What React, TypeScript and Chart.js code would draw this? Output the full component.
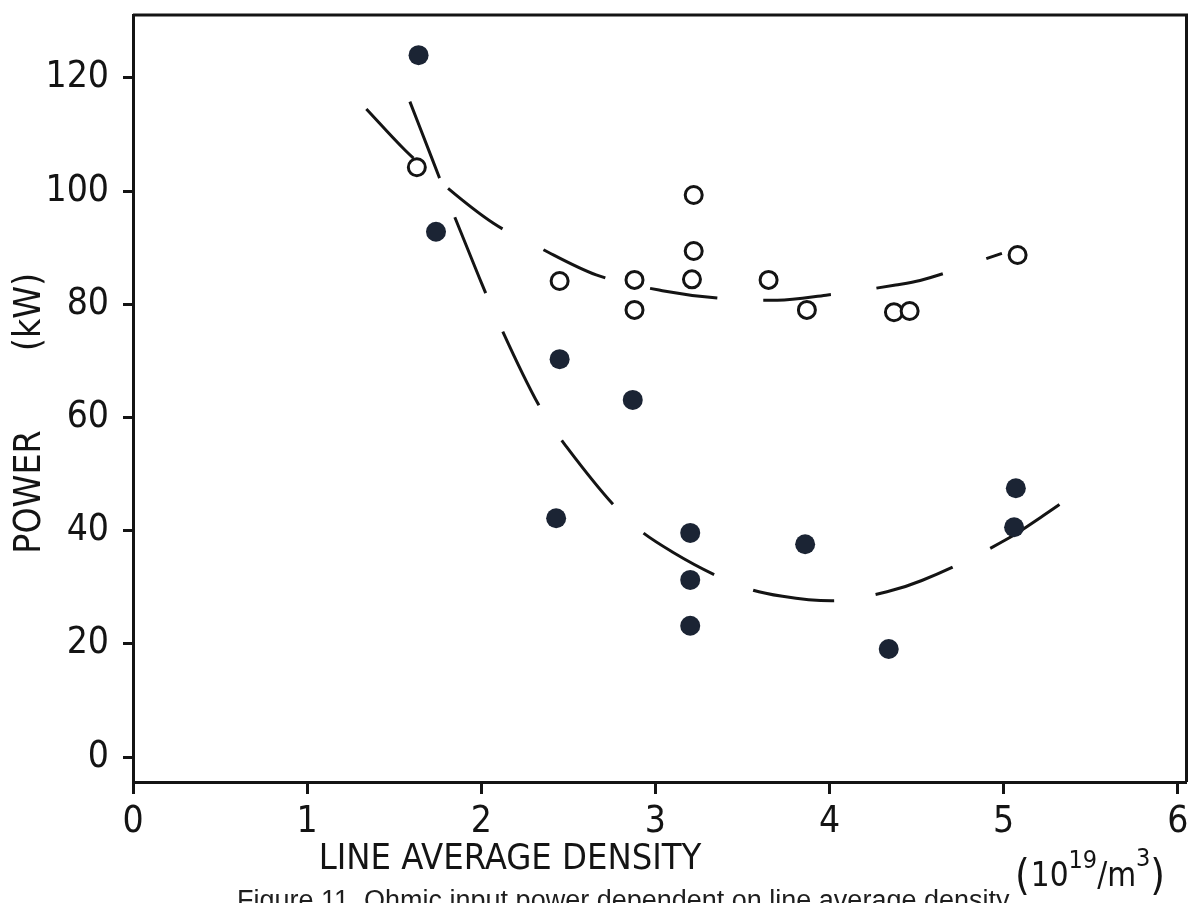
import React, { useEffect, useRef } from "react";
import { Chart, registerables } from "chart.js";

Chart.register(...registerables);

// ---- data ----
const xTickValues = [0, 1, 2, 3, 4, 5, 6];
const xTickLabels = ["0", "1", "2", "3", "4", "5", "6"];
const yTickValues = [0, 20, 40, 60, 80, 100, 120];
const yTickLabels = ["0", "20", "40", "60", "80", "100", "120"];

// filled circles
const filledX = [1.64, 1.74, 2.45, 2.87, 2.43, 3.2, 3.2, 3.2, 3.86, 4.34, 5.07, 5.06];
const filledY = [124.0, 92.8, 70.3, 63.1, 42.2, 39.6, 31.3, 23.2, 37.6, 19.1, 47.5, 40.6];

// open circles
const openX = [1.63, 2.45, 2.88, 2.88, 3.22, 3.22, 3.21, 3.65, 3.87, 4.37, 4.46, 5.08];
const openY = [104.2, 84.1, 84.3, 79.0, 99.3, 89.4, 84.4, 84.3, 79.0, 78.6, 78.8, 88.7];

// dashed fit through open circles
const fitOpenX = [1.34, 1.56, 1.72, 2.07, 2.34, 2.66, 3.04, 3.39, 3.7, 3.98, 4.38, 4.52, 4.99];
const fitOpenY = [114.5, 107.3, 102.8, 94.3, 89.9, 85.2, 82.4, 81.0, 80.7, 81.6, 83.4, 84.2, 89.0];

// dashed fit through filled circles
const fitFilledX = [1.59, 1.72, 1.84, 1.99, 2.06, 2.35, 2.49, 2.85, 3.1, 3.52, 3.73, 4.01, 4.33, 4.53, 5.03, 5.21, 5.39];
const fitFilledY = [115.8, 105.5, 96.0, 84.6, 79.5, 61.1, 54.8, 41.7, 36.2, 29.9, 28.4, 27.6, 29.2, 31.2, 38.7, 42.3, 46.1];

const yTitleMain = "POWER";
const yTitleUnit = "(kW)";
const xTitle = "LINE AVERAGE DENSITY";
const caption = "Figure 11.  Ohmic input power dependent on line average density";

const FONT = "'DejaVu Sans Condensed', 'Liberation Sans Narrow', 'DejaVu Sans', sans-serif";
const INK = "#141414";
const DOT = "#1b2434";

const pts = (xs: number[], ys: number[]) => xs.map((x, i) => ({ x, y: ys[i] }));

const textPlugin = {
  id: "frameAndTitles",
  afterDraw(chart: any) {
    const { ctx, chartArea: a } = chart;
    ctx.save();
    // top and right edges of the frame
    ctx.strokeStyle = INK;
    ctx.lineWidth = 3;
    ctx.beginPath();
    ctx.moveTo(a.left, a.top);
    ctx.lineTo(a.right, a.top);
    ctx.lineTo(a.right, a.bottom);
    ctx.stroke();

    ctx.fillStyle = INK;
    ctx.font = `37px ${FONT}`;
    ctx.textAlign = "center";
    ctx.textBaseline = "middle";
    // y title (rotated)
    ctx.save();
    ctx.translate(30, 492);
    ctx.rotate(-Math.PI / 2);
    ctx.fillText(yTitleMain, 0, 0);
    ctx.restore();
    ctx.save();
    ctx.translate(30, 312);
    ctx.rotate(-Math.PI / 2);
    ctx.fillText(yTitleUnit, 0, 0);
    ctx.restore();

    // x title
    ctx.font = `36px ${FONT}`;
    ctx.fillText(xTitle, 510, 860);

    // units (10^19/m^3)
    ctx.textAlign = "left";
    ctx.textBaseline = "alphabetic";
    const base = 886;
    let x = 1015;
    const big = `33px ${FONT}`;
    const sup = `25px ${FONT}`;
    const parts: [string, string, number, number][] = [
      ["(", `42px ${FONT}`, 4, 1],
      ["10", big, 0, 0],
      ["19", sup, -18, 0],
      ["/m", big, 0, 0],
      ["3", sup, -20, 0],
      [")", `42px ${FONT}`, 4, 0],
    ];
    for (const [t, f, dy, gap] of parts) {
      ctx.font = f;
      ctx.fillText(t, x, base + dy);
      x += ctx.measureText(t).width + gap;
    }
    ctx.restore();
  },
};

export default function App() {
  const ref = useRef<HTMLCanvasElement | null>(null);

  useEffect(() => {
    if (!ref.current) return;
    const chart = new Chart(ref.current, {
      type: "scatter",
      data: {
        datasets: [
          {
            label: "filled",
            data: pts(filledX, filledY),
            pointRadius: 10,
            pointBackgroundColor: DOT,
            pointBorderColor: DOT,
            pointBorderWidth: 0,
            showLine: false,
          },
          {
            label: "open",
            data: pts(openX, openY),
            pointRadius: 8.5,
            pointBackgroundColor: "#ffffff",
            pointBorderColor: INK,
            pointBorderWidth: 3,
            showLine: false,
          },
          {
            label: "fit open",
            data: pts(fitOpenX, fitOpenY),
            showLine: true,
            pointRadius: 0,
            borderColor: INK,
            borderWidth: 3,
            borderDash: [68, 46],
            cubicInterpolationMode: "monotone",
          },
          {
            label: "fit filled",
            data: pts(fitFilledX, fitFilledY),
            showLine: true,
            pointRadius: 0,
            borderColor: INK,
            borderWidth: 3,
            borderDash: [82, 42],
            cubicInterpolationMode: "monotone",
          },
        ],
      },
      options: {
        animation: false,
        responsive: false,
        maintainAspectRatio: false,
        layout: { padding: { top: 15, right: 11, left: 0, bottom: 0 } },
        plugins: { legend: { display: false }, tooltip: { enabled: false } },
        scales: {
          x: {
            type: "linear",
            min: 0,
            max: 6.05,
            afterBuildTicks: (s: any) => {
              s.ticks = xTickValues.map((v) => ({ value: v }));
            },
            afterFit: (s: any) => {
              s.height = 121;
              s.paddingLeft = 0;
              s.paddingRight = 0;
            },
            grid: {
              display: true,
              drawOnChartArea: false,
              drawTicks: true,
              tickLength: 12,
              tickWidth: 3,
              tickColor: INK,
            },
            border: { display: true, color: INK, width: 3 },
            ticks: {
              autoSkip: false,
              maxRotation: 0,
              padding: 6,
              color: INK,
              font: { family: FONT, size: 37 },
              callback: (v: any) => {
                const i = xTickValues.indexOf(Number(v));
                return i >= 0 ? xTickLabels[i] : "";
              },
            },
          },
          y: {
            type: "linear",
            min: -4.4,
            max: 131.1,
            afterBuildTicks: (s: any) => {
              s.ticks = yTickValues.map((v) => ({ value: v }));
            },
            afterFit: (s: any) => {
              s.width = 133;
              s.paddingTop = 0;
              s.paddingBottom = 0;
            },
            grid: {
              display: true,
              drawOnChartArea: false,
              drawTicks: true,
              tickLength: 10,
              tickWidth: 3,
              tickColor: INK,
            },
            border: { display: true, color: INK, width: 3 },
            ticks: {
              autoSkip: false,
              padding: 14,
              color: INK,
              font: { family: FONT, size: 37 },
              callback: (v: any) => {
                const i = yTickValues.indexOf(Number(v));
                return i >= 0 ? yTickLabels[i] : "";
              },
            },
          },
        },
      },
      plugins: [textPlugin],
    });
    return () => chart.destroy();
  }, []);

  return (
    <div
      style={{
        position: "absolute",
        left: 0,
        top: 0,
        width: 1198,
        height: 903,
        overflow: "hidden",
        background: "#ffffff",
      }}
    >
      <canvas ref={ref} width={1198} height={903} style={{ display: "block" }} />
      <div
        style={{
          position: "absolute",
          left: 237,
          top: 885,
          fontFamily: "'Liberation Sans', Arial, sans-serif",
          fontSize: 27,
          color: "#1e1e1e",
          whiteSpace: "nowrap",
        }}
      >
        {caption}
      </div>
    </div>
  );
}
